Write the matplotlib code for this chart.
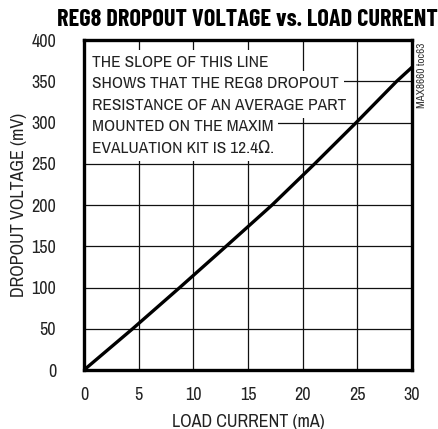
import matplotlib
matplotlib.use('Agg')
import matplotlib.pyplot as plt

plt.rcParams['font.family'] = ['Archivo Narrow', 'DejaVu Sans']
plt.rcParams['font.stretch'] = 'condensed'
TITLE_FONT = ['Barlow Condensed', 'DejaVu Sans']

# measured dropout curve
load_current = [0, 4.45, 8.76, 13.0, 17.2, 21.1, 24.9, 28.6, 30.0]  # mA
dropout_voltage = [0, 50, 100, 150, 200, 250, 300, 350, 367]  # mV

x_ticks = [0, 5, 10, 15, 20, 25, 30]
y_ticks = [0, 50, 100, 150, 200, 250, 300, 350, 400]

note_lines = [
    'THE SLOPE OF THIS LINE',
    'SHOWS THAT THE REG8 DROPOUT',
    'RESISTANCE OF AN AVERAGE PART',
    'MOUNTED ON THE MAXIM',
    'EVALUATION KIT IS 12.4\u03a9.',
]

fig = plt.figure(figsize=(4.39, 4.29), dpi=100)
ax = fig.add_axes([0.1913, 0.1375, 0.7472, 0.7692])

ax.set_xlim(0, 30)
ax.set_ylim(0, 400)
ax.set_xticks(x_ticks)
ax.set_yticks(y_ticks)
ax.tick_params(length=0, labelsize=13, pad=12, labelcolor='#222222')
ax.tick_params(axis='y', pad=20)
ax.grid(True, color='#111111', linewidth=0.9)
ax.set_axisbelow(True)
for s in ax.spines.values():
    s.set_linewidth(2.4)
    s.set_zorder(5)

ax.plot(load_current, dropout_voltage, color='black', linewidth=2.4,
        solid_capstyle='butt', zorder=4)

# note text, each line on its own white backing so the grid shows around it
for i, line in enumerate(note_lines):
    ax.text(0.7, 373 - i * 26, line, fontsize=12.5, ha='left', va='center',
            color='#222222', zorder=3,
            bbox=dict(boxstyle='square,pad=0.3', facecolor='white',
                      edgecolor='none'))

ax.set_xlabel('LOAD CURRENT (mA)', fontsize=13, labelpad=8, color='#222222')
ax.set_ylabel('DROPOUT VOLTAGE (mV)', fontsize=13, labelpad=3, color='#222222')

fig.text(0.563, 0.953, 'REG8 DROPOUT VOLTAGE vs. LOAD CURRENT',
         fontsize=17.5, fontweight='bold', family=TITLE_FONT,
         ha='center', va='center')
fig.text(0.962, 0.9, 'MAX8660 toc63', fontsize=8, rotation=90,
         ha='center', va='top', color='#333333')

fig.savefig('out.png', dpi=100)
